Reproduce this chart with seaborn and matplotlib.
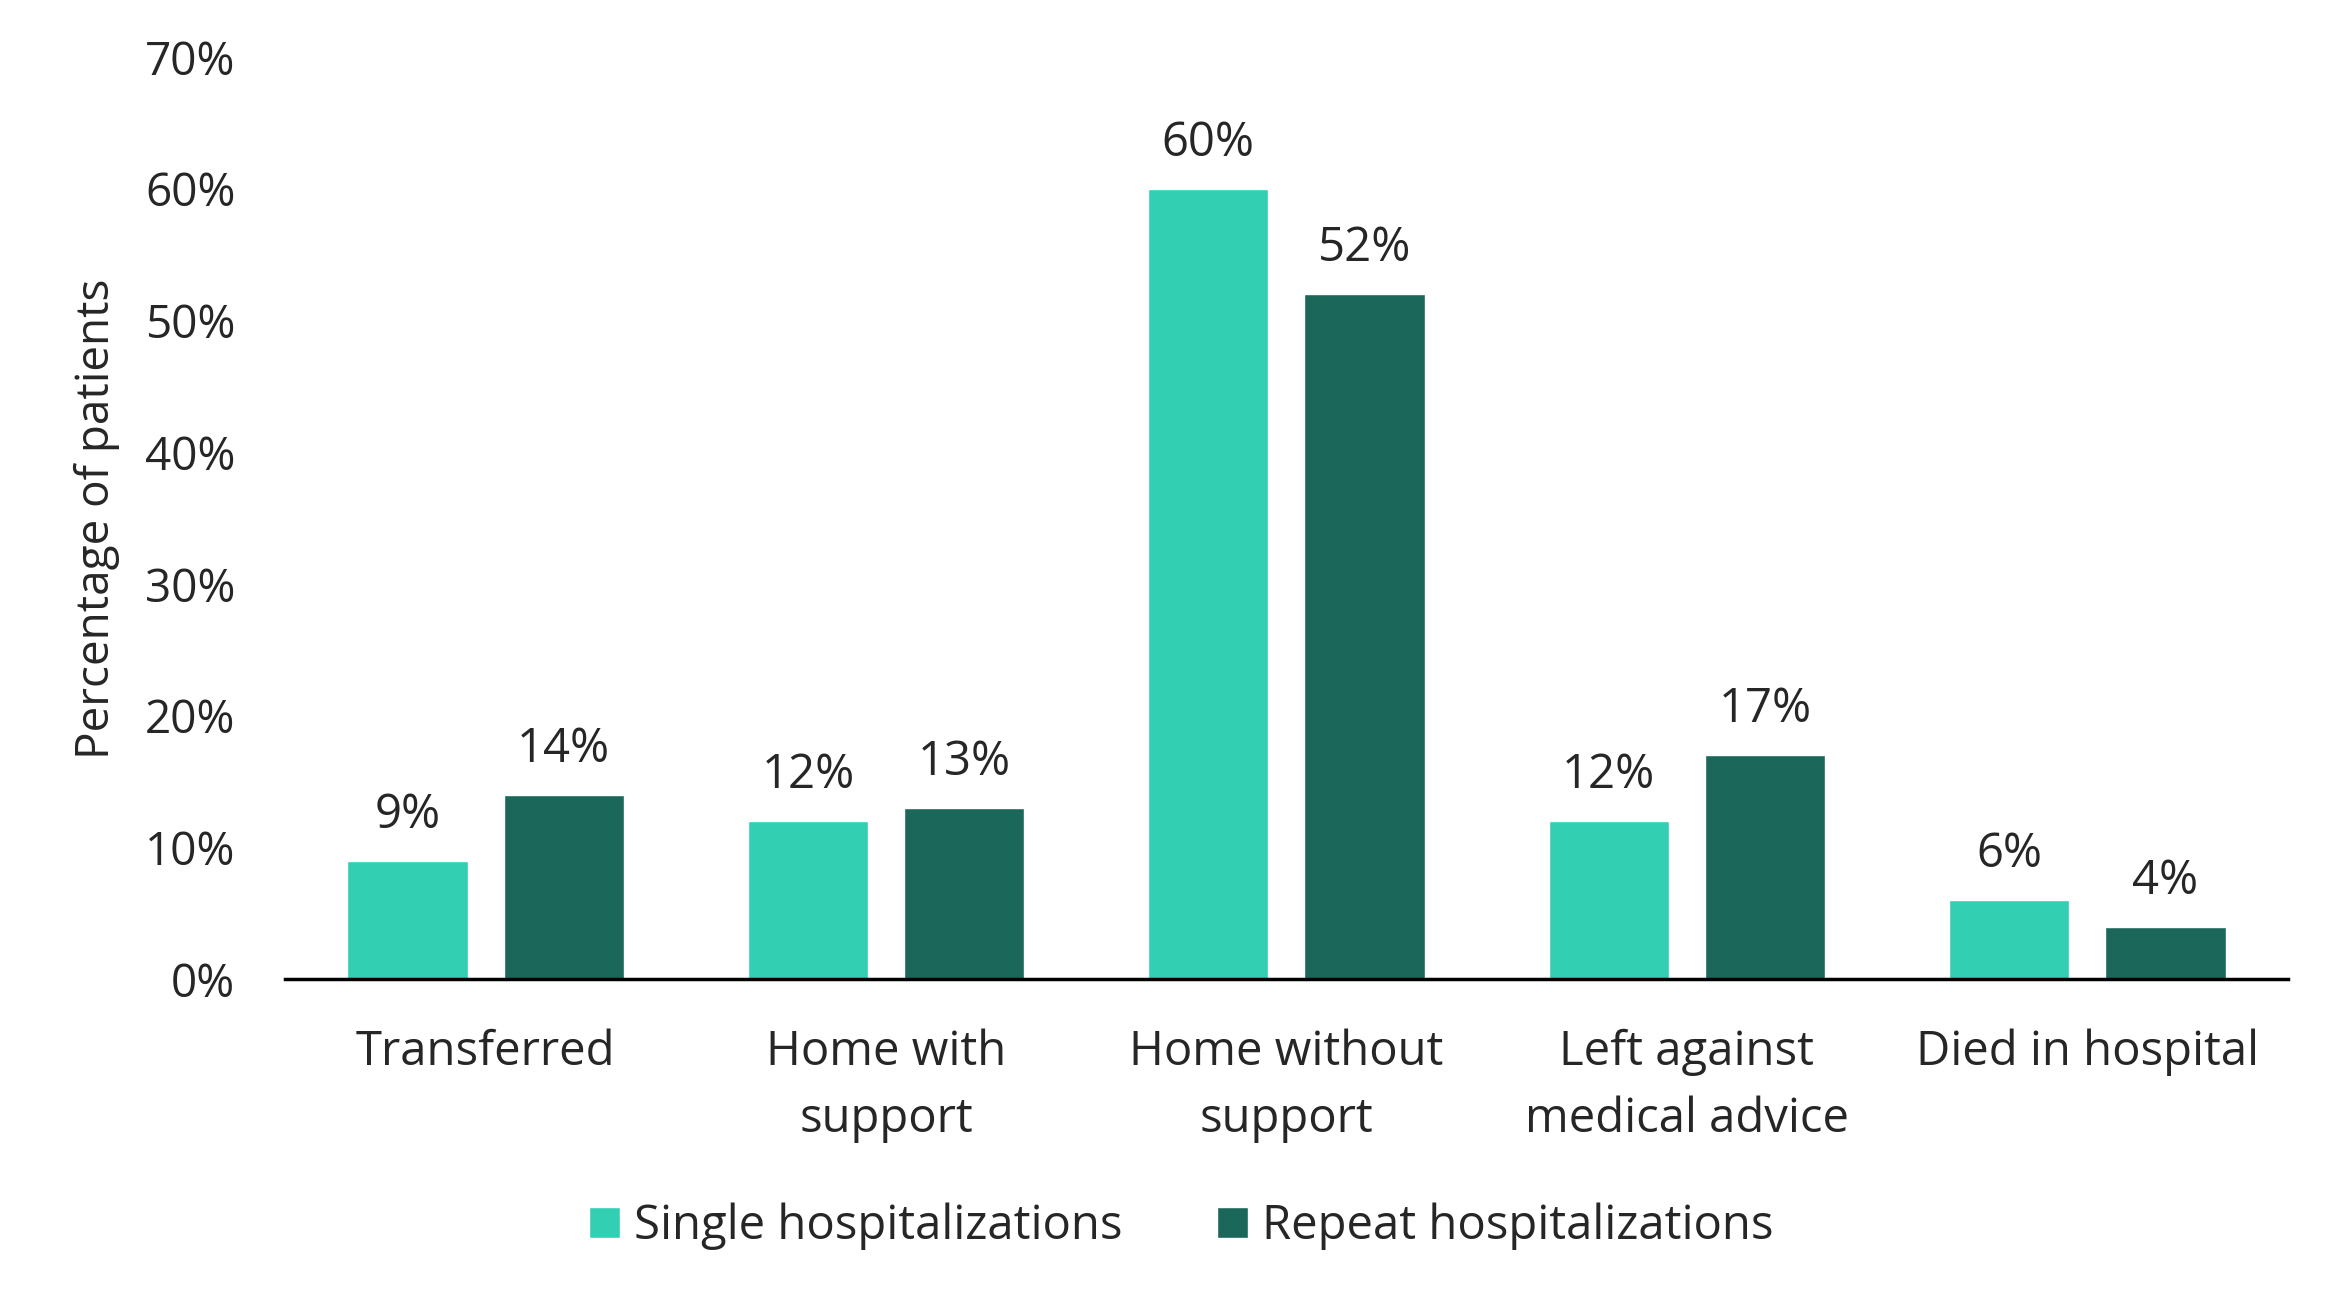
import matplotlib
matplotlib.use('Agg')
import matplotlib.pyplot as plt
import pandas as pd
import seaborn as sns

# Discharge destinations and share of patients (%)
categories = ['Transferred', 'Home with\nsupport', 'Home without\nsupport',
              'Left against\nmedical advice', 'Died in hospital']
single = [9, 12, 60, 12, 6]
repeat = [14, 13, 52, 17, 4]
series = ['Single hospitalizations', 'Repeat hospitalizations']
colors = ['#33CFB2', '#1B685B']

df = pd.DataFrame({
    'Category': categories * 2,
    'Value': single + repeat,
    'Series': [series[0]] * len(categories) + [series[1]] * len(categories),
})

sns.set_style('white')
plt.rcParams['font.family'] = ['Open Sans', 'DejaVu Sans']
FS = 34

fig = plt.figure(figsize=(23.39, 12.99), dpi=100)
ax = fig.add_axes([0.122, 0.246, 0.856, 0.71])
sns.barplot(data=df, x='Category', y='Value', hue='Series', palette=colors,
            saturation=1, width=0.78, gap=0.23, ax=ax, legend=True)

for cont in ax.containers:
    ax.bar_label(cont, labels=[f'{v:.0f}%' for v in cont.datavalues],
                 padding=16, fontsize=FS)

ax.set_ylim(0, 70)
ax.set_yticks(range(0, 71, 10))
ax.set_yticklabels([f'{t}%' for t in range(0, 71, 10)], fontsize=FS - 1)
ax.tick_params(axis='y', length=0, pad=36)
ax.tick_params(axis='x', length=0, pad=35, labelsize=FS)
for lbl in ax.get_xticklabels():
    lbl.set_linespacing(1.55)
ax.set_xlabel('')
ax.set_ylabel('Percentage of patients', fontsize=FS - 1, labelpad=18)
for s in ['top', 'right', 'left']:
    ax.spines[s].set_visible(False)
ax.spines['bottom'].set_linewidth(2.5)
ax.spines['bottom'].set_color('black')
ax.set_xlim(-0.5, 4.5)

handles, labels = ax.get_legend_handles_labels()
ax.get_legend().remove()
fig.legend(handles, labels, loc='center', bbox_to_anchor=(0.505, 0.056),
           ncol=2, frameon=False, fontsize=FS, handlelength=0.65,
           handleheight=0.65, handletextpad=0.3, columnspacing=2.0)

fig.savefig('out.png', dpi=100)
